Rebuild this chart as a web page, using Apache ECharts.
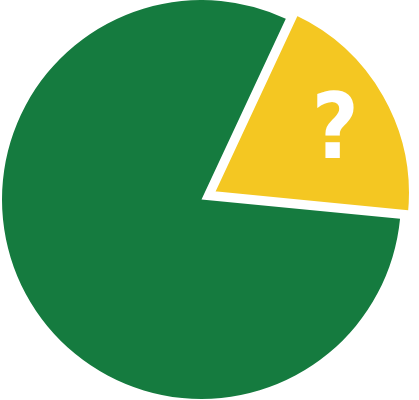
<!DOCTYPE html>
<html>
<head>
    <meta charset="utf-8">
    <title>pie</title>
    <script src="https://cdn.jsdelivr.net/npm/echarts@6/dist/echarts.min.js"></script>
    <style>
        html, body { margin: 0; padding: 0; background: #ffffff; }
        #chart { width: 419px; height: 400px; }
    </style>
</head>
<body>
<div id="chart"></div>
<script>
    // data
    var categories = ['Known', '?'];
    var values = [80.4, 19.6];
    var colors = ['#157B3F', '#F4C722'];

    var chart = echarts.init(document.getElementById('chart'), null, { renderer: 'canvas' });

    // yellow slice first so it starts at the top edge and runs clockwise
    var order = [1, 0];
    var pieData = order.map(function (i) {
        var item = {
            name: categories[i],
            value: values[i],
            itemStyle: { color: colors[i] }
        };
        if (i === 1) {
            item.selected = true;
            item.itemStyle.borderColor = '#ffffff';
            item.itemStyle.borderWidth = 5;
            item.label = { show: true };
        }
        return item;
    });

    var option = {
        animation: false,
        backgroundColor: '#ffffff',
        series: [{
            type: 'pie',
            center: [201.5, 199.5],
            radius: [0, 199.5],
            startAngle: 65,
            clockwise: true,
            selectedMode: 'single',
            selectedOffset: 12,
            silent: true,
            emphasis: { disabled: true },
            label: {
                show: false,
                position: 'inside',
                formatter: '{b}',
                color: '#ffffff',
                fontFamily: 'DejaVu Sans Condensed',
                fontWeight: 'bold',
                fontSize: 90
            },
            labelLayout: { dx: 34, dy: -8 },
            labelLine: { show: false },
            data: pieData
        }]
    };

    chart.setOption(option);

    window.onresize = function () {
        chart.resize();
    };
</script>
</body>
</html>
